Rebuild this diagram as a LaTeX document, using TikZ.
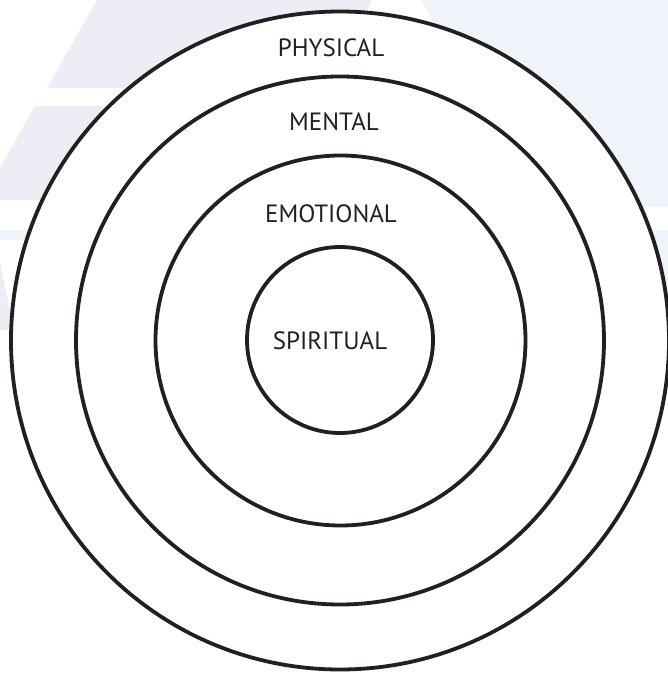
\documentclass[tikz,border=0pt]{standalone}
\usepackage{fontspec}
\setmainfont{PT Sans}
\definecolor{ink}{HTML}{231F20}
\definecolor{lav}{HTML}{EDEDF6}
\definecolor{pblue}{HTML}{EFF3FA}
\begin{document}
\begin{tikzpicture}[x=1pt,y=-1pt,
  ring/.style={circle,draw=ink,line width=3.8pt,inner sep=0pt,fill=white},
  lbl/.style={font=\fontsize{25}{29}\selectfont,text=ink,anchor=base,inner sep=0pt}]
\useasboundingbox (0,0) rectangle (668,673);
% faint watermark background
\fill[lav] (97,0) -- (372,0) -- (330,88) -- (47,88) -- cycle;
\fill[pblue] (421,0) -- (668,0) -- (668,207) -- (539,207) -- cycle;
\fill[pblue] (600,230) -- (668,230) -- (668,300) -- (640,300) -- cycle;
\fill[lav] (35,106) -- (300,106) -- (250,200) -- (0,200) -- (0,168) -- cycle;
\fill[pblue] (0,230) -- (60,230) -- (60,240) -- (0,240) -- cycle;
\fill[lav] (0,262) -- (14,330) -- (0,330) -- cycle;
% rings
\node[ring,minimum size=658pt] (physical) at (340,340.5) {};
\node[ring,minimum size=528pt] (mental) at (340,340.5) {};
\node[ring,minimum size=370pt] (emotional) at (340.5,340.5) {};
\node[ring,minimum size=186pt] (spiritual) at (340,340) {};
% labels
\node[lbl] (tphys) at (331,56) {PHYSICAL};
\node[lbl] (tment) at (334,130) {MENTAL};
\node[lbl] (temo) at (331,222.5) {EMOTIONAL};
\node[lbl] (tspir) at (330,349) {SPIRITUAL};
\end{tikzpicture}
\end{document}
